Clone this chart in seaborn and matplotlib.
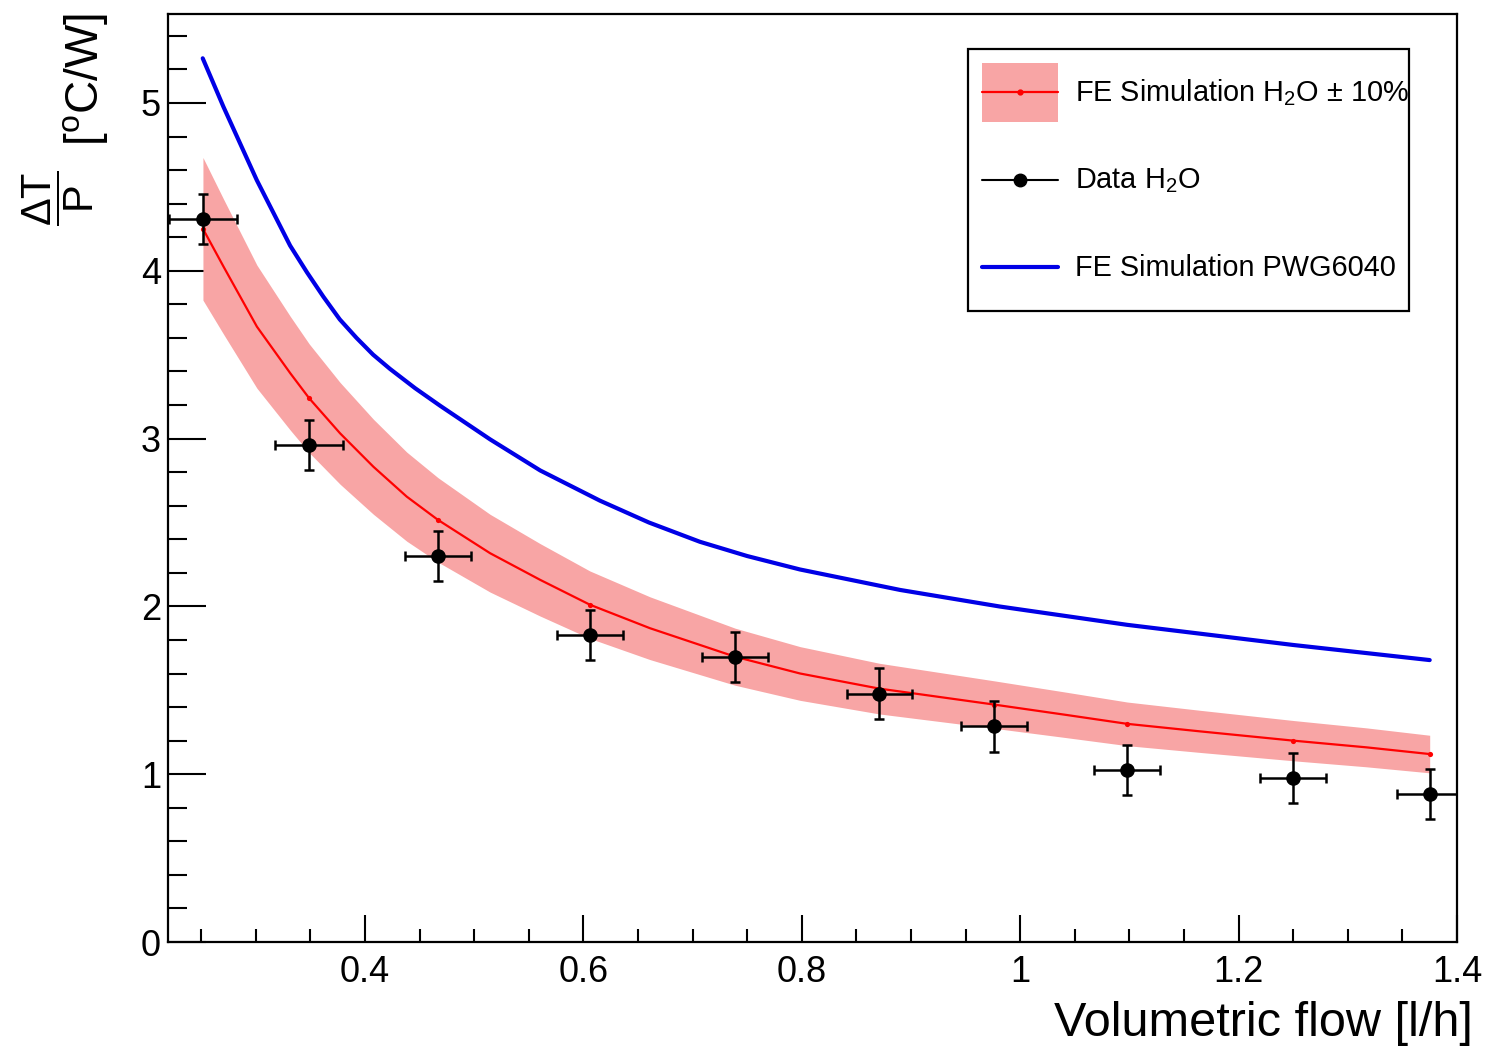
import matplotlib
matplotlib.use("Agg")
import matplotlib.pyplot as plt
import seaborn as sns
import numpy as np
from matplotlib.ticker import MultipleLocator, FuncFormatter
from matplotlib.patches import Patch
from matplotlib.lines import Line2D
from matplotlib.legend_handler import HandlerLine2D

# ---------------- data ----------------
flow = [0.252, 0.349, 0.467, 0.606, 0.739, 0.871, 0.976, 1.098, 1.250, 1.375]
data_h2o = [4.31, 2.96, 2.30, 1.83, 1.70, 1.48, 1.285, 1.025, 0.977, 0.88]
flow_err = [0.031, 0.031, 0.030, 0.030, 0.030, 0.030, 0.030, 0.030, 0.030, 0.030]
data_err = [0.15, 0.15, 0.15, 0.15, 0.15, 0.15, 0.15, 0.15, 0.15, 0.15]

# FE simulation H2O: values at the measured flows (markers)
sim_h2o_pts = [4.25, 3.24, 2.515, 2.01, 1.70, 1.51, 1.415, 1.30, 1.20, 1.12]
# FE simulation H2O: curve read along its length
sim_flow = [0.2517, 0.2706, 0.3011, 0.3317, 0.349, 0.3773, 0.4078, 0.4383,
            0.467, 0.5146, 0.5605, 0.606, 0.661, 0.739, 0.7985, 0.871,
            0.976, 1.0424, 1.098, 1.165, 1.250, 1.317, 1.375]
sim_h2o = [4.25, 4.024, 3.667, 3.389, 3.24, 3.031, 2.832, 2.654,
           2.515, 2.317, 2.158, 2.01, 1.87, 1.70, 1.60, 1.51,
           1.415, 1.353, 1.30, 1.255, 1.20, 1.16, 1.12]
band_frac = 0.10

# FE simulation PWG6040 curve read along its length
pwg_flow = [0.2515, 0.2704, 0.301, 0.3315, 0.347, 0.362, 0.377, 0.3923,
            0.4075, 0.423, 0.446, 0.469, 0.5147, 0.5605, 0.6152, 0.660,
            0.7067, 0.750, 0.7983, 0.89, 0.9815, 1.098, 1.25, 1.375]
pwg_sim = [5.266, 4.978, 4.54, 4.15, 3.99, 3.845, 3.71, 3.60,
           3.50, 3.415, 3.30, 3.195, 2.995, 2.81, 2.63, 2.50,
           2.385, 2.30, 2.22, 2.098, 1.999, 1.89, 1.77, 1.68]

legend_labels = [r"FE Simulation H$_2$O $\pm$ 10%", r"Data H$_2$O",
                 "FE Simulation PWG6040"]

# ---------------- style ----------------
sns.set_style("ticks")
plt.rcParams["font.family"] = ["Liberation Sans", "DejaVu Sans"]
plt.rcParams["mathtext.fontset"] = "custom"
plt.rcParams["mathtext.rm"] = "Liberation Sans"
plt.rcParams["mathtext.it"] = "Liberation Sans"
plt.rcParams["mathtext.bf"] = "Liberation Sans:bold"
plt.rcParams["mathtext.sf"] = "Liberation Sans"
for k in ["text.color", "axes.labelcolor", "xtick.color", "ytick.color",
          "axes.edgecolor"]:
    plt.rcParams[k] = "black"

PINK = "#F8A5A5"
RED = "#FF0000"
BLUE = "#0000E6"

W, H = 1487, 1049
fig = plt.figure(figsize=(W / 100, H / 100), dpi=100)
fig.patch.set_facecolor("white")
ax = fig.add_axes([168 / W, 1 - 942 / H, (1457 - 168) / W, (942 - 14) / H])

# band +-10%
sim = np.array(sim_h2o)
ax.fill_between(sim_flow, sim * (1 - band_frac), sim * (1 + band_frac),
                color=PINK, lw=0, zorder=1)
sns.lineplot(x=sim_flow, y=sim_h2o, ax=ax, color=RED, lw=1.6, zorder=2)
sns.scatterplot(x=flow, y=sim_h2o_pts, ax=ax, color=RED, s=14,
                edgecolor=RED, linewidth=0, zorder=2.5)
sns.lineplot(x=pwg_flow, y=pwg_sim, ax=ax, color=BLUE, lw=3.0, zorder=3)
ax.errorbar(flow, data_h2o, xerr=flow_err, yerr=data_err, fmt="o",
            color="black", ms=9.5, elinewidth=1.8, capsize=3.5,
            capthick=1.8, zorder=4)

ax.set_xlim(0.2197, 1.4)
ax.set_ylim(0, 5.53)

ax.xaxis.set_major_locator(MultipleLocator(0.2))
ax.xaxis.set_minor_locator(MultipleLocator(0.05))
ax.yaxis.set_major_locator(MultipleLocator(1))
ax.yaxis.set_minor_locator(MultipleLocator(0.2))
fmt = FuncFormatter(lambda v, p: ("%g" % round(v, 6)))
ax.xaxis.set_major_formatter(fmt)
ax.yaxis.set_major_formatter(fmt)

ax.tick_params(axis="both", which="both", direction="in", top=False,
               right=False, width=1.5, color="black", labelsize=26,
               labelcolor="black")
ax.tick_params(axis="x", which="major", length=19.5, pad=9)
ax.tick_params(axis="x", which="minor", length=9.5)
ax.tick_params(axis="y", which="major", length=27, pad=5)
ax.tick_params(axis="y", which="minor", length=13.5)
for s in ax.spines.values():
    s.set_linewidth(1.6)
    s.set_color("black")
    s.set_visible(True)

ax.set_xlabel("Volumetric flow [l/h]", fontsize=35, loc="right")
ax.xaxis.set_label_coords(1.012, -0.064)

# y axis title: fraction + unit (ROOT style, top aligned)
fig.text(58 / W, 1 - 198 / H, r"$\dfrac{\Delta\mathrm{T}}{\mathrm{P}}$",
         rotation=90, fontsize=30, ha="center", va="center")
fig.text(85 / W, 1 - 13 / H, r"[$^{\mathrm{o}}$C/W]", rotation=90,
         fontsize=33, ha="center", va="top")


class CenteredLineHandler(HandlerLine2D):
    """Line handle centred on the patch height of the legend row."""

    def create_artists(self, legend, orig_handle, xdescent, ydescent,
                       width, height, fontsize, trans):
        arts = super().create_artists(legend, orig_handle, xdescent,
                                      ydescent, width, height, fontsize,
                                      trans)
        for a in arts:
            yd = np.asarray(a.get_ydata(), dtype=float)
            a.set_ydata(np.full_like(yd, height / 2.0 - ydescent))
        return arts


h1 = (Patch(facecolor=PINK, edgecolor="none"),
      Line2D([], [], color=RED, lw=1.6, marker="o", ms=3.5, mec=RED))
h2 = Line2D([], [], color="black", lw=1.5, marker="o", ms=9)
h3 = Line2D([], [], color=BLUE, lw=3.0)
x0 = (968 - 168) / 1289
x1 = (1409 - 168) / 1289
y0 = (942 - 308) / 928
y1 = (942 - 49) / 928
leg = ax.legend([h1, h2, h3], legend_labels, loc="upper right",
                bbox_to_anchor=(x0, y0, x1 - x0, y1 - y0), mode="expand",
                borderaxespad=0.0,
                handler_map={Line2D: CenteredLineHandler()},
                fontsize=20.8, handlelength=2.65, handleheight=2.81,
                labelspacing=0.95, handletextpad=0.6, borderpad=0.47,
                fancybox=False, framealpha=1, edgecolor="black")
leg.get_frame().set_linewidth(1.6)

fig.savefig("out.png", dpi=100, facecolor="white")
